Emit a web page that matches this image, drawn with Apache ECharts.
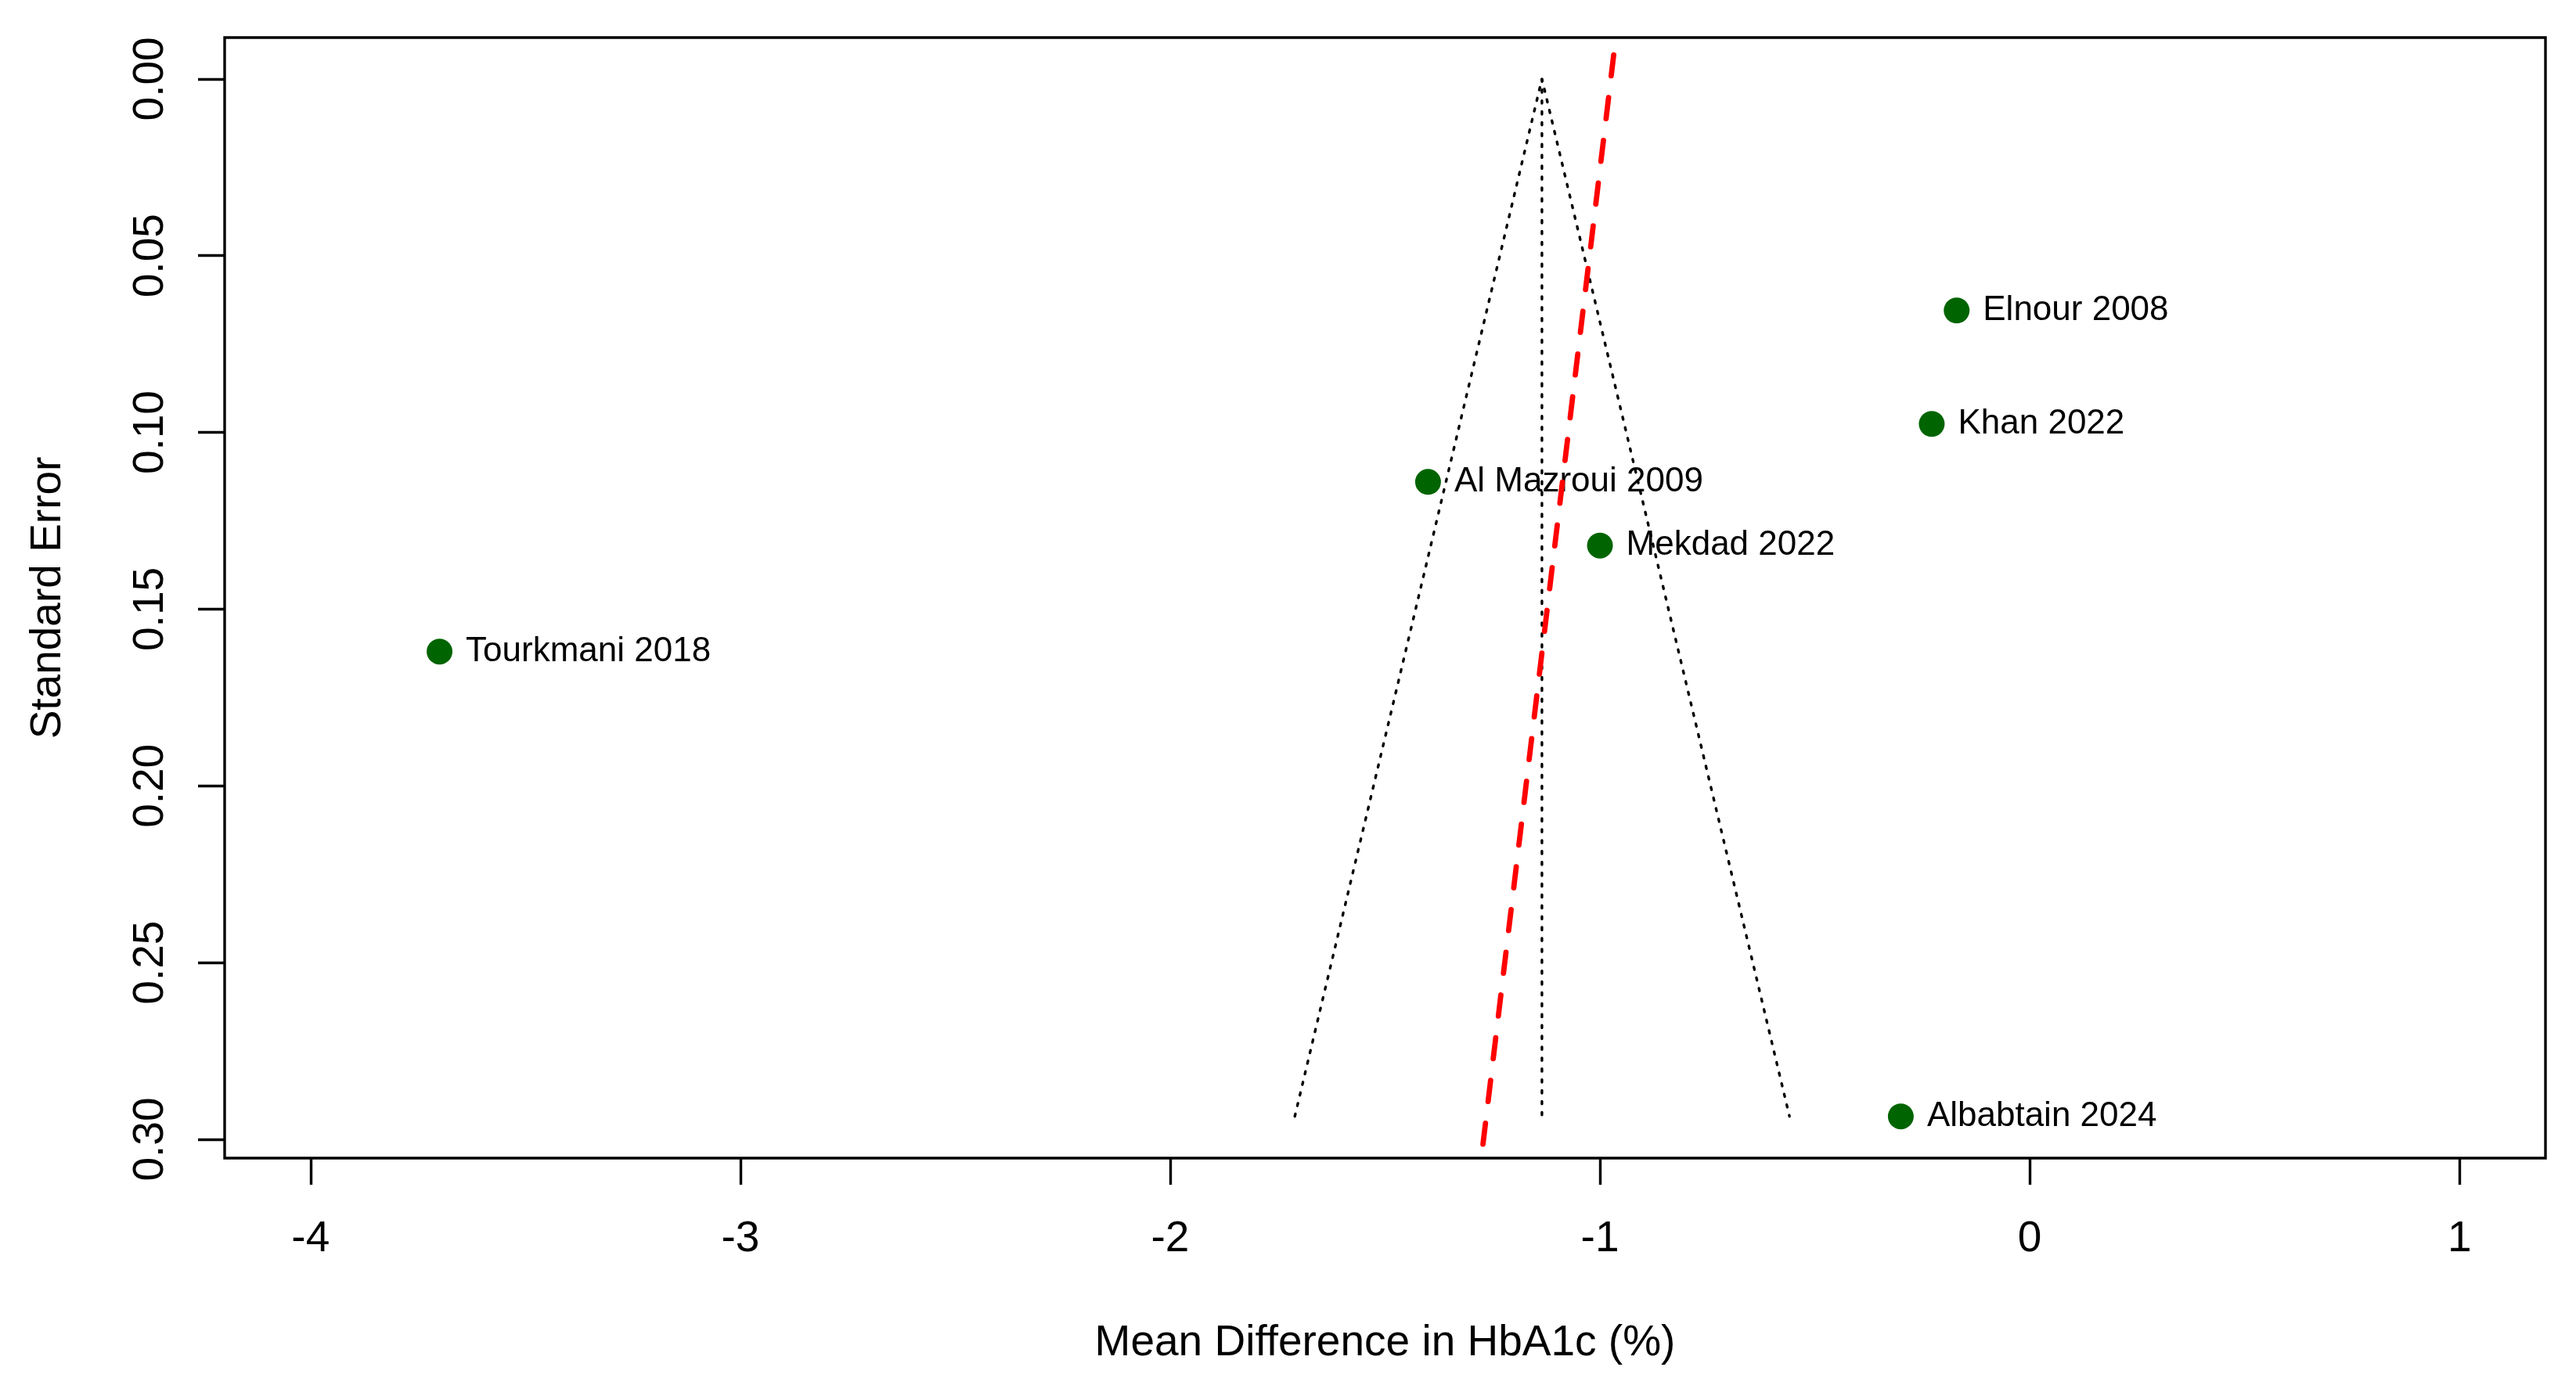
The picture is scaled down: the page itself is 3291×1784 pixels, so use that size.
<!DOCTYPE html>
<html lang="en">
<head>
    <meta charset="UTF-8">
    <title>Funnel plot</title>
    <style>
        html, body { margin: 0; padding: 0; background: #fff; }
        #main { width: 3291px; height: 1784px; }
    </style>
</head>
<body>
<div id="main"></div>
<script src="https://cdn.jsdelivr.net/npm/echarts@6/dist/echarts.min.js"></script>
<script>
    // studies: mean difference and standard error
    const studies = ['Elnour 2008', 'Khan 2022', 'Al Mazroui 2009', 'Mekdad 2022', 'Tourkmani 2018', 'Albabtain 2024'];
    const meanDiff = [-0.17, -0.228, -1.40, -1.00, -3.70, -0.30];
    const stdErr = [0.0655, 0.0976, 0.114, 0.132, 0.162, 0.2935];

    // funnel (pooled estimate and 95% limits at the largest SE)
    const funnelX = [-1.710, -1.135, -0.559];
    const funnelSE = [0.2935, 0, 0.2935];
    const centreX = [-1.135, -1.135];
    const centreSE = [0, 0.2935];

    // red dashed regression line, end points
    const eggerX = [-0.968, -1.276];
    const eggerSE = [-0.0068, 0.3052];

    // tick labels
    const xTicks = [-4, -3, -2, -1, 0, 1];
    const yTicks = [0, 0.05, 0.10, 0.15, 0.20, 0.25, 0.30];

    const pairs = (xs, ys) => xs.map((x, i) => [x, ys[i]]);
    const font = "'Liberation Sans', Arial, Helvetica, sans-serif";
    const lw = 3.4;

    const myChart = echarts.init(document.getElementById('main'));
    const option = {
        animation: false,
        backgroundColor: '#fff',
        grid: {
            left: 287, right: 39, top: 48, bottom: 304,
            show: true, borderColor: '#000', borderWidth: lw, backgroundColor: 'transparent'
        },
        xAxis: {
            type: 'value',
            min: -4.2,
            max: 1.2,
            position: 'bottom',
            name: 'Mean Difference in HbA1c (%)',
            nameLocation: 'middle',
            nameGap: 209,
            nameTextStyle: { fontFamily: font, fontSize: 55, color: '#000' },
            axisLine: { show: false, onZero: false },
            splitLine: { show: false },
            axisTick: {
                show: true, length: 34, customValues: xTicks,
                lineStyle: { color: '#000', width: lw }
            },
            axisLabel: {
                customValues: xTicks, margin: 76,
                fontFamily: font, fontSize: 55, color: '#000',
                formatter: v => String(v)
            }
        },
        yAxis: {
            type: 'value',
            inverse: true,
            min: -0.0117,
            max: 0.3053,
            position: 'left',
            name: 'Standard Error',
            nameLocation: 'middle',
            nameGap: 198,
            nameTextStyle: { fontFamily: font, fontSize: 55, color: '#000' },
            axisLine: { show: false, onZero: false },
            splitLine: { show: false },
            axisTick: {
                show: true, length: 34, customValues: yTicks,
                lineStyle: { color: '#000', width: lw }
            },
            axisLabel: {
                customValues: yTicks, margin: 67, rotate: 90,
                fontFamily: font, fontSize: 55, color: '#000',
                formatter: v => v.toFixed(2)
            }
        },
        series: [
            {
                type: 'scatter',
                z: 2,
                data: pairs(meanDiff, stdErr).map((p, i) => ({ value: p, name: studies[i] })),
                symbol: 'circle',
                symbolSize: 33,
                itemStyle: { color: '#006400', opacity: 1 },
                label: {
                    show: true, position: 'right', distance: 17,
                    formatter: p => p.name,
                    fontFamily: font, fontSize: 44, color: '#000', opacity: 1
                }
            },
            {
                type: 'line',
                z: 5,
                data: pairs(funnelX, funnelSE),
                symbol: 'none',
                lineStyle: { color: '#000', width: lw, type: [3.4, 10.5], cap: 'round' }
            },
            {
                type: 'line',
                z: 5,
                data: pairs(centreX, centreSE),
                symbol: 'none',
                lineStyle: { color: '#000', width: lw, type: [3.4, 10.5], cap: 'round' }
            },
            {
                type: 'line',
                z: 6,
                data: pairs(eggerX, eggerSE),
                symbol: 'none',
                lineStyle: { color: '#ff0000', width: 6.8, type: [27, 28], cap: 'round' }
            }
        ]
    };

    myChart.setOption(option);
</script>
</body>
</html>
